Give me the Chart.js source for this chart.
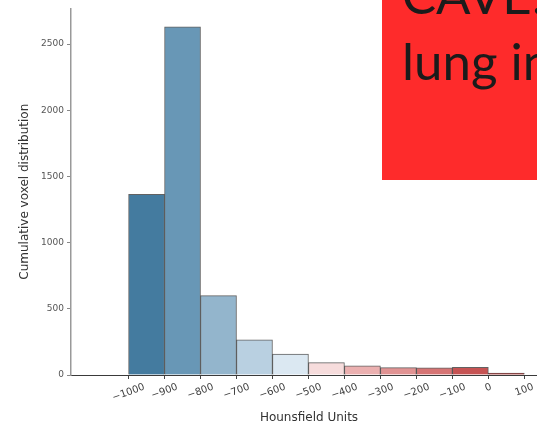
<!DOCTYPE html>
<html>
<head>
<meta charset="utf-8">
<script src="https://cdn.jsdelivr.net/npm/chart.js@4/dist/chart.umd.min.js"></script>
<style>
  html, body { margin: 0; padding: 0; width: 537px; height: 428px; overflow: hidden; background: #fff; }
  #wrap { position: relative; width: 537px; height: 428px; overflow: hidden; }
  #hist { position: absolute; left: 0; top: 0; }
  #note {
    position: absolute; left: 382px; top: 0; width: 200px; height: 180px;
    background: #fe2b2b; overflow: hidden;
    font-family: Lato, "Open Sans", sans-serif; font-size: 51px; color: #1b1b1b;
  }
  #note div { position: absolute; left: 20px; white-space: nowrap; line-height: 1; }
</style>
</head>
<body>
<div id="wrap">
  <canvas id="hist" width="560" height="428"></canvas>
  <div id="note"><div style="top:-31px">CAVE:</div><div style="top:35px">lung in</div></div>
</div>
<script>
// Histogram bins (left edges, HU) and voxel counts per bin
const binStarts = [-1000, -900, -800, -700, -600, -500, -400, -300, -200, -100, 0];
const voxelCounts = [1365, 2630, 600, 265, 158, 94, 69, 56, 55, 58, 15];
const binWidth = 100;

// Axis ticks
const xTickValues = [-1000, -900, -800, -700, -600, -500, -400, -300, -200, -100, 0, 100];
const yTickValues = [0, 500, 1000, 1500, 2000, 2500];

// Diverging blue → red palette, one colour per bin
const palette = ['#447b9f', '#6897b6', '#93b5cc', '#b9d0e1', '#dbe8f2', '#f6dcdc',
                 '#ebb0b0', '#e19393', '#d67474', '#c65353', '#a62b2b'];

const fmt = v => (v < 0 ? '\u2212' + Math.abs(v) : String(v));

// Rotated x tick labels, centred under each tick
const rotatedLabels = {
  id: 'rotatedLabels',
  afterDraw(chart) {
    const xs = chart.scales.x;
    const ctx = chart.ctx;
    const ang = 20 * Math.PI / 180;
    ctx.save();
    ctx.font = '10px "DejaVu Sans"';
    ctx.fillStyle = '#3d3d3d';
    ctx.textAlign = 'center';
    ctx.textBaseline = 'middle';
    const top = chart.chartArea.bottom + 7;
    xTickValues.forEach(v => {
      const label = fmt(v);
      const w = ctx.measureText(label).width;
      const h = 10;
      const bboxH = w * Math.sin(ang) + h * Math.cos(ang);
      const px = xs.getPixelForValue(v);
      ctx.save();
      ctx.translate(px, top + bboxH / 2);
      ctx.rotate(-ang);
      ctx.fillText(label, 0, 0);
      ctx.restore();
    });
    ctx.restore();
  }
};

new Chart(document.getElementById('hist'), {
  type: 'bar',
  data: {
    datasets: [{
      data: binStarts.map((s, i) => ({ x: s + binWidth / 2, y: voxelCounts[i] })),
      backgroundColor: palette,
      borderColor: 'rgba(45,45,45,0.75)',
      borderWidth: 1,
      barPercentage: 1,
      categoryPercentage: 1,
      grouped: false
    }]
  },
  options: {
    responsive: false,
    animation: false,
    events: [],
    layout: { padding: { left: 0, right: 13, top: 7, bottom: 0 } },
    plugins: { legend: { display: false }, tooltip: { enabled: false } },
    scales: {
      x: {
        type: 'linear',
        min: -1160,
        max: 163,
        offset: false,
        afterBuildTicks: s => { s.ticks = xTickValues.map(v => ({ value: v })); },
        afterFit: s => { s.height = 53; },
        ticks: { color: 'rgba(0,0,0,0)', autoSkip: false, maxRotation: 0, font: { size: 10 } },
        grid: { offset: false, drawOnChartArea: false, drawTicks: true, tickLength: 4, color: '#444', lineWidth: 1 },
        border: { display: true, color: '#3a3a3a', width: 1 },
        title: {
          display: true, text: 'Hounsfield Units', color: '#333',
          font: { family: 'DejaVu Sans', size: 12 }, padding: { top: 0, bottom: 3 }
        }
      },
      y: {
        min: 0,
        max: 2770,
        afterBuildTicks: s => { s.ticks = yTickValues.map(v => ({ value: v })); },
        afterFit: s => { s.width = 71; },
        ticks: { color: '#555', padding: 3, font: { family: 'DejaVu Sans', size: 9 }, callback: v => String(v) },
        grid: { drawOnChartArea: false, drawTicks: true, tickLength: 4, color: '#888', lineWidth: 1 },
        border: { display: true, color: '#999', width: 1.5 },
        title: {
          display: true, text: 'Cumulative voxel distribution', color: '#333',
          font: { family: 'DejaVu Sans', size: 12 }, padding: { top: 18, bottom: 0 }
        }
      }
    }
  },
  plugins: [rotatedLabels]
});
</script>
</body>
</html>
